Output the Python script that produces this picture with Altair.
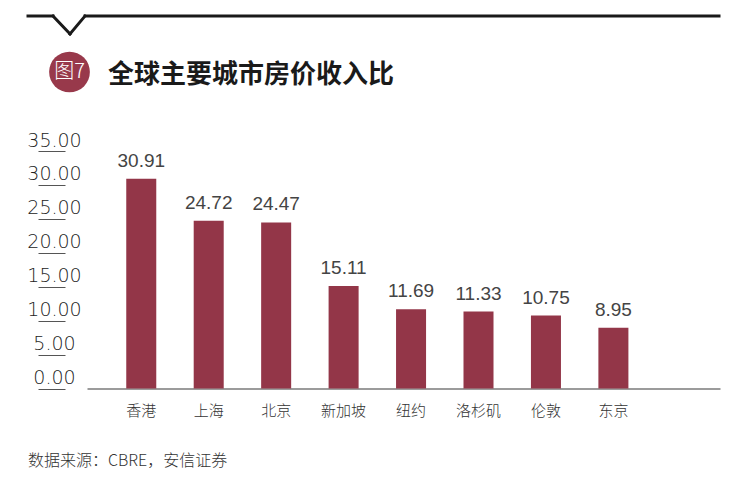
import altair as alt
import pandas as pd

cities = ["香港", "上海", "北京", "新加坡", "纽约", "洛杉矶", "伦敦", "东京"]
ratios = [30.91, 24.72, 24.47, 15.11, 11.69, 11.33, 10.75, 8.95]
y_ticks = [0, 5, 10, 15, 20, 25, 30, 35]

title_text = "全球主要城市房价收入比"
badge_text = "图7"
source_text = "数据来源：CBRE，安信证券"

df = pd.DataFrame({"city": cities, "ratio": ratios})

BAR = "#933648"
NUM_FONT = "Liberation Sans"
AXIS_FONT = "DejaVu Sans"
CJK_FONT = "Noto Sans CJK SC"

x_enc = alt.X(
    "city:N",
    sort=cities,
    scale=alt.Scale(paddingInner=0.555, paddingOuter=0.97, align=0.3),
    axis=alt.Axis(
        title=None, ticks=False, labelAngle=0, labelFont=CJK_FONT, labelFontSize=15,
        labelFontWeight=300, labelColor="#333333", labelPadding=15,
        domainColor="#7a7a7a", domainWidth=1.5,
    ),
)
y_enc = alt.Y(
    "ratio:Q",
    scale=alt.Scale(domain=[0, 35], nice=False),
    axis=alt.Axis(
        title=None, values=y_ticks, format=".2f", grid=False, domain=False,
        offset=22, tickSize=27, tickColor="#555555", tickWidth=1,
        labelAlign="center", labelPadding=-16, labelBaseline="alphabetic",
        labelOffset=-5, labelFont=AXIS_FONT, labelFontSize=19, labelFontWeight=200,
        labelColor="#222222",
    ),
)

bars = alt.Chart(df).mark_bar(color=BAR).encode(x=x_enc, y=y_enc)
labels = alt.Chart(df).mark_text(
    baseline="alphabetic", dy=-12, font=NUM_FONT, fontSize=19, color="#444444"
).encode(x=x_enc, y=y_enc, text=alt.Text("ratio:Q", format=".2f"))

one = alt.Data(values=[{}])
LINE = "#1a1a1a"
segs = [(-59, -135, -34, -135), (-34, -135, -17, -117), (-17, -117, -2, -135), (-2, -135, 632, -135)]
rules = [
    alt.Chart(one).mark_rule(color=LINE, strokeWidth=3, strokeCap="square").encode(
        x=alt.value(a), y=alt.value(b), x2=alt.value(c), y2=alt.value(d)
    )
    for a, b, c, d in segs
]

badge = alt.Chart(one).mark_circle(color="#98394b", opacity=1, size=1660).encode(
    x=alt.value(-17.5), y=alt.value(-79)
)
badge_t = alt.Chart(one).mark_text(
    text=badge_text, font=CJK_FONT, fontSize=20, fontWeight=300, color="white",
    align="center", baseline="middle",
).encode(x=alt.value(-17.5), y=alt.value(-79))
title = alt.Chart(one).mark_text(
    text=title_text, font=CJK_FONT, fontSize=26, fontWeight="bold", color="#1a1a1a",
    align="left", baseline="middle",
).encode(x=alt.value(21), y=alt.value(-76))
source = alt.Chart(one).mark_text(
    text=source_text, font=CJK_FONT, fontSize=16, fontWeight=300, color="#333333",
    align="left", baseline="middle",
).encode(x=alt.value(-59), y=alt.value(310))

chart = alt.layer(bars, labels, *rules, badge, badge_t, title, source).properties(
    width=633, height=237.5,
    background="white",
    autosize=alt.AutoSizeParams(type="none"),
    padding={"left": 79, "top": 143, "right": 16, "bottom": 92},
).configure_view(stroke="transparent", strokeWidth=0)

chart.save("out.html", embed_options={"renderer": "svg", "actions": False})
